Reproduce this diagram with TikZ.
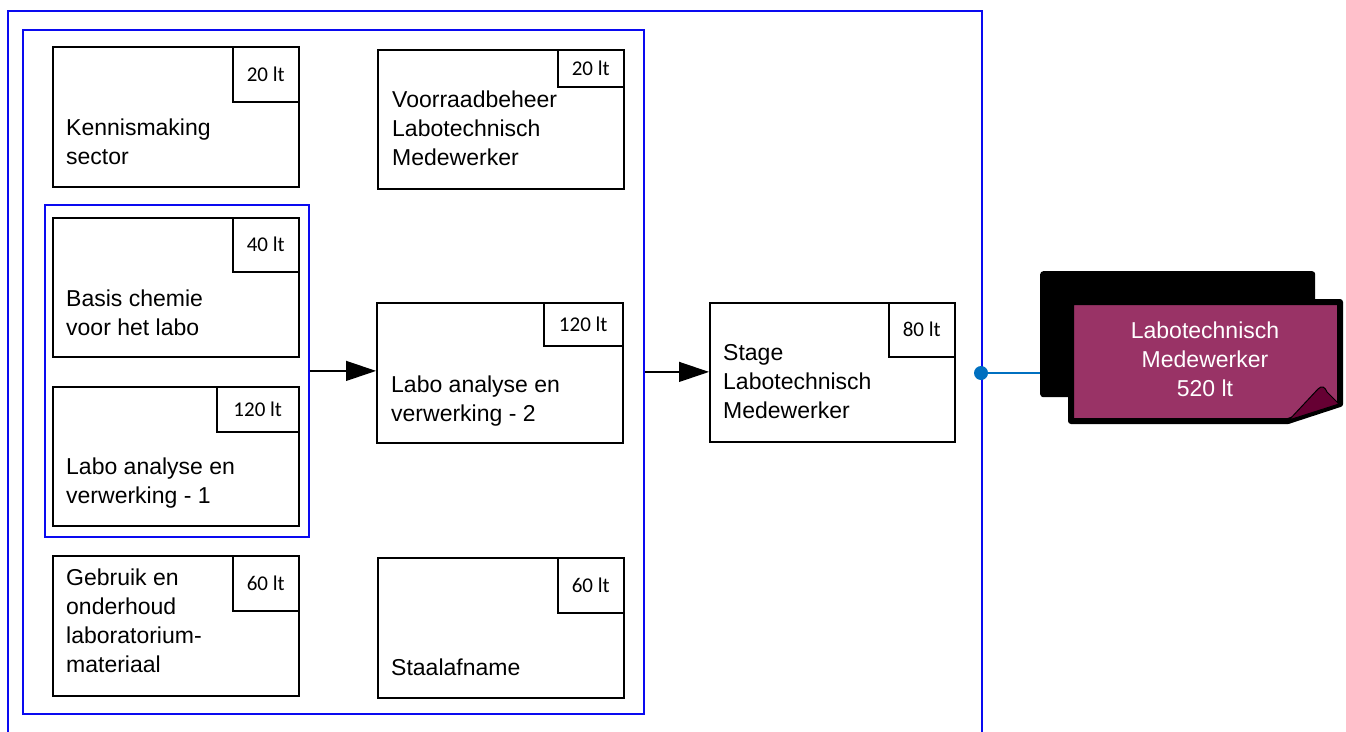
\documentclass[tikz,border=0pt]{standalone}
\usepackage{fontspec}
\setmainfont{Liberation Sans}
\newfontfamily\calfont{Carlito}
\usetikzlibrary{arrows.meta}
\definecolor{frameblue}{RGB}{10,10,240}
\definecolor{dotblue}{RGB}{0,112,192}
\definecolor{plum}{RGB}{153,51,102}
\definecolor{plumdark}{RGB}{102,0,51}
\begin{document}
\begin{tikzpicture}[x=1pt,y=-1pt,
  frame/.style={draw=frameblue, line width=1.8pt, rectangle, inner sep=0pt, anchor=north west},
  course/.style={draw=black, line width=1.5pt, fill=white, rectangle, inner sep=0pt, anchor=north west, minimum width=246pt, minimum height=140pt},
  hours/.style={draw=black, line width=1.5pt, rectangle, anchor=north east, inner sep=0pt, font=\calfont\fontsize{21}{25}\selectfont, minimum width=66pt, minimum height=55pt},
  lbl/.style={anchor=west, align=left, inner sep=0pt, font=\fontsize{23}{29}\selectfont},
  flow/.style={draw=black, line width=1.2pt, -{Triangle[length=30pt,width=20pt]}}
]
\useasboundingbox (0,0) rectangle (1346,731);
% frames
\node[frame, minimum width=974pt, minimum height=740pt] (outer) at (7,10) {};
\node[frame, minimum width=621pt, minimum height=684pt] (inner) at (22,29) {};
\node[frame, minimum width=264pt, minimum height=332pt] (group) at (44,204) {};
% courses
\node[course] (kenn) at (52,46) {};
\node[hours] (kennh) at (kenn.north east) {20 lt};
\node[lbl] (kennt) at (66,142) {Kennismaking\\sector};

\node[course, minimum height=139pt] (voor) at (377,49) {};
\node[hours, minimum width=66pt, minimum height=37pt] (voorh) at (voor.north east) {20 lt};
\node[lbl] (voort) at (392,128) {Voorraadbeheer\\Labotechnisch\\Medewerker};

\node[course, minimum height=139pt] (basis) at (52,217) {};
\node[hours, minimum height=54pt] (basish) at (basis.north east) {40 lt};
\node[lbl] (basist) at (66,313) {Basis chemie\\voor het labo};

\node[course, minimum height=139pt] (laboa) at (52,386) {};
\node[hours, minimum width=82pt, minimum height=45pt] (laboah) at (laboa.north east) {120 lt};
\node[lbl] (laboat) at (66,483) {Labo analyse en\\verwerking - 1};

\node[course] (labob) at (376,302) {};
\node[hours, minimum width=79pt, minimum height=43pt] (labobh) at (labob.north east) {120 lt};
\node[lbl] (labobt) at (391,401) {Labo analyse en\\verwerking - 2};

\node[course, minimum width=245pt, minimum height=139pt] (stage) at (709,302) {};
\node[hours, minimum height=54pt] (stageh) at (stage.north east) {80 lt};
\node[lbl] (staget) at (723,382) {Stage\\Labotechnisch\\Medewerker};

\node[course] (gebr) at (52,555) {};
\node[hours] (gebrh) at (gebr.north east) {60 lt};
\node[lbl] (gebrt) at (66,621) {Gebruik en\\onderhoud\\laboratorium-\\materiaal};

\node[course] (staal) at (377,557) {};
\node[hours] (staalh) at (staal.north east) {60 lt};
\node[lbl] (staalt) at (391,667) {Staalafname};

% arrows
\draw[flow] (group.east) -- (group.east -| labob.west);
\draw[flow] (inner.east) -- (inner.east -| stage.west);

% result
\node[fill=black, rounded corners=3pt, minimum width=275pt, minimum height=126pt, inner sep=0pt, anchor=north west] (back) at (1040,271) {};
\coordinate (dotc) at (981,373);
\draw[dotblue, line width=1.5pt] (dotc) -- (dotc -| back.west);
\node[circle, fill=dotblue, minimum size=14pt, inner sep=0pt] (dot) at (dotc) {};
\draw[black, line width=6pt, fill=plum, line join=round] (1071,302) -- (1340,302) -- (1340,404) -- (1288,421) -- (1071,421) -- cycle;
\draw[black, line width=1pt, fill=plumdark, line join=round] (1289,420) -- (1318,389) .. controls (1322,385) and (1325,387) .. (1327,392) -- (1339,404) -- cycle;
\node[align=center, text=white, inner sep=0pt, font=\fontsize{23}{29}\selectfont] (goal) at (1205,359) {Labotechnisch\\Medewerker\\520 lt};
\end{tikzpicture}
\end{document}
